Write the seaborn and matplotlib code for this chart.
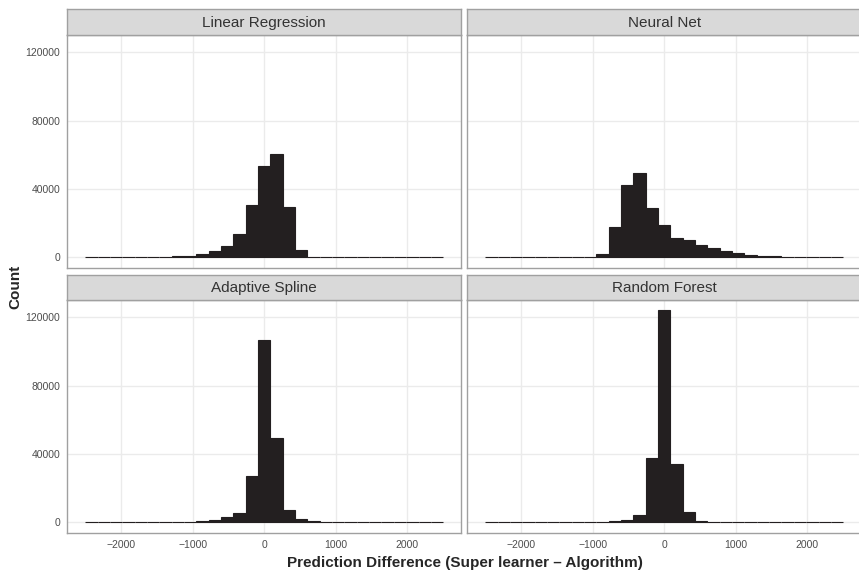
import numpy as np
import pandas as pd
import matplotlib
matplotlib.use("Agg")
import matplotlib.pyplot as plt
import seaborn as sns

# =========================
# DATA (bin counts)
# =========================

panels = ["Linear Regression", "Neural Net", "Adaptive Spline", "Random Forest"]

# 29 bins spanning -2500 .. 2500
bin_edges = np.linspace(-2500, 2500, 30)

linear_regression = [0, 0, 0, 0, 50, 100, 200, 800, 900, 1900, 3900, 6600, 13600, 30600,
                     53700, 60600, 29300, 4300, 300, 100, 0, 0, 0, 0, 0, 0, 0, 0, 0]
neural_net = [0, 0, 0, 0, 0, 0, 0, 0, 100, 1900, 17600, 42600, 49600, 28700,
              18800, 11200, 10100, 7200, 5200, 3700, 2500, 1400, 700, 500, 400, 50, 0, 0, 0]
adaptive_spline = [50, 50, 50, 50, 300, 300, 300, 300, 400, 800, 1600, 3100, 5500, 27000,
                   107000, 49300, 7400, 2100, 800, 300, 400, 400, 400, 400, 400, 50, 50, 50, 50]
random_forest = [50, 50, 50, 50, 50, 50, 300, 300, 300, 400, 800, 1600, 4300, 37600,
                 124000, 34100, 6000, 800, 300, 400, 400, 400, 50, 50, 50, 50, 50, 50, 50]

counts = [linear_regression, neural_net, adaptive_spline, random_forest]

x_ticks = [-2000, -1000, 0, 1000, 2000]
y_ticks = [0, 40000, 80000, 120000]

# =========================
# STYLE
# =========================

sns.set_style("white")
plt.rcParams["font.family"] = ["Liberation Sans", "DejaVu Sans"]

BAR = "#231f20"
GRID = "#ebebeb"
BORDER = "#a0a0a0"
STRIP = "#d9d9d9"
TICK_TXT = "#4d4d4d"

W, H = 859, 570


def box(left, top, right, bottom):
    return [left / W, 1 - bottom / H, (right - left) / W, (bottom - top) / H]


cols = [(67.3, 461.1), (467.3, 861.1)]
rows = [((9, 34.9), (34.9, 267.9)), ((275, 299.9), (299.9, 532.9))]

fig = plt.figure(figsize=(W / 100, H / 100), dpi=100)

ymax = max(max(c) for c in counts)
centers = (bin_edges[:-1] + bin_edges[1:]) / 2

for i, name in enumerate(panels):
    r, c = divmod(i, 2)
    (st, sb), (pt, pb) = rows[r]
    left, right = cols[c]

    df = pd.DataFrame({"diff": centers, "n": counts[i]})

    ax = fig.add_axes(box(left, pt, right, pb))
    sns.histplot(data=df, x="diff", weights="n", bins=list(bin_edges), ax=ax,
                 color=BAR, edgecolor=BAR, linewidth=0.8, alpha=1)

    ax.set_xlim(-2750, 2750)
    ax.set_ylim(-0.05 * ymax, 1.05 * ymax)
    ax.set_xticks(x_ticks)
    ax.set_yticks(y_ticks)
    ax.grid(True, color=GRID, linewidth=1.0)
    ax.set_axisbelow(True)
    ax.set_xlabel("")
    ax.set_ylabel("")
    for s in ax.spines.values():
        s.set_color(BORDER)
        s.set_linewidth(1.0)
    ax.tick_params(colors=BORDER, labelcolor=TICK_TXT, labelsize=7.5,
                   length=3, width=0.8, pad=2)
    if r == 0:
        ax.tick_params(axis="x", length=0, labelbottom=False)
    if c == 1:
        ax.tick_params(axis="y", length=0, labelleft=False)

    sax = fig.add_axes(box(left, st, right, sb))
    sax.set_facecolor(STRIP)
    sax.set_xticks([])
    sax.set_yticks([])
    for s in sax.spines.values():
        s.set_color(BORDER)
        s.set_linewidth(1.0)
    sax.text(0.5, 0.47, name, ha="center", va="center", fontsize=11,
             color="#333333", transform=sax.transAxes)

fig.text(465 / W, 1 - 563 / H, "Prediction Difference (Super learner \u2013 Algorithm)",
         ha="center", va="center", fontsize=11, fontweight="bold")
fig.text(15 / W, 1 - 287 / H, "Count", ha="center", va="center", rotation=90,
         fontsize=11, fontweight="bold")

fig.savefig("out.png", dpi=100)
